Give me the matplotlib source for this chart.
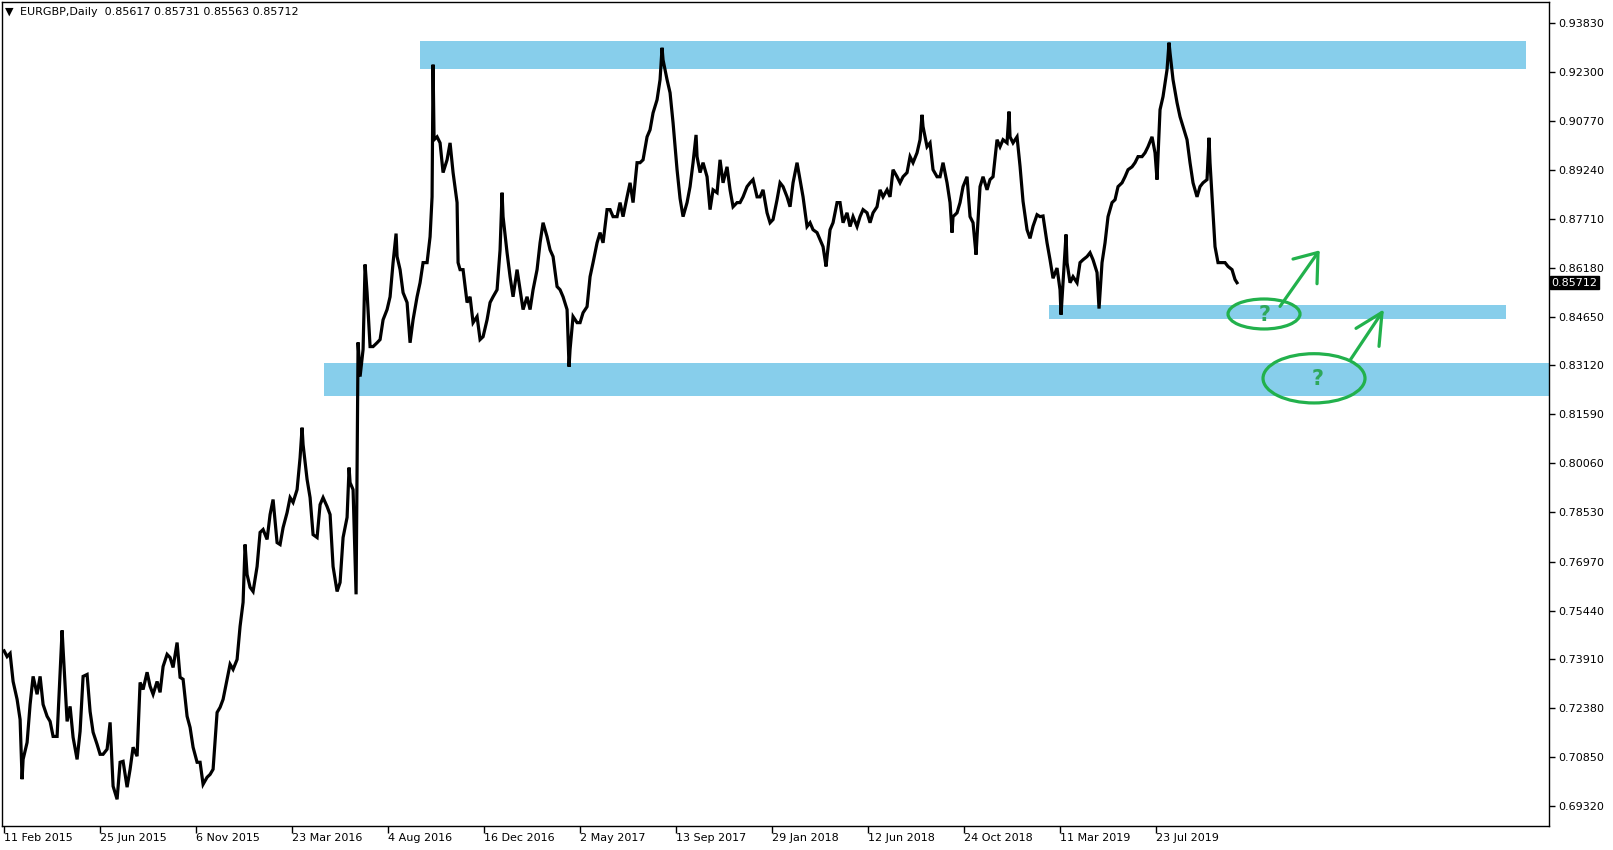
import matplotlib
matplotlib.use("Agg")
import matplotlib.pyplot as plt
from matplotlib.patches import Ellipse
import matplotlib.transforms as mtransforms

# EURGBP daily, bar number (0 = 11 Feb 2015) and price
bars = [0, 3, 6, 9, 13, 16, 18, 19, 23, 26, 29, 33, 36, 39, 43, 46, 49, 53, 56, 58,
        59, 63, 66, 69, 73, 76, 79, 83, 86, 89, 93, 96, 99, 103, 106, 109, 113, 116, 119, 123,
        126, 129, 133, 136, 139, 143, 146, 149, 153, 156, 159, 163, 166, 169, 173, 176, 179, 183, 186, 189,
        193, 196, 199, 203, 206, 209, 213, 216, 219, 223, 226, 229, 233, 236, 239, 241, 243, 246, 249, 253,
        256, 259, 263, 266, 269, 273, 276, 279, 283, 286, 289, 293, 296, 298, 299, 303, 306, 309, 313, 316,
        319, 323, 326, 329, 333, 336, 339, 343, 345, 346, 349, 352, 354, 356, 359, 361, 363, 366, 369, 373,
        376, 379, 383, 386, 389, 392, 393, 396, 399, 403, 406, 409, 413, 416, 419, 423, 426, 428, 429, 430,
        433, 436, 439, 443, 446, 449, 453, 454, 456, 459, 463, 466, 469, 473, 476, 479, 483, 486, 489, 493,
        496, 498, 499, 503, 506, 509, 513, 516, 519, 523, 526, 529, 533, 536, 539, 543, 546, 549, 553, 556,
        559, 563, 565, 566, 569, 573, 576, 579, 583, 586, 589, 593, 596, 599, 603, 606, 609, 613, 616, 619,
        623, 626, 629, 633, 636, 639, 643, 646, 649, 653, 656, 658, 659, 663, 666, 669, 673, 676, 679, 683,
        686, 689, 692, 693, 696, 699, 703, 706, 709, 713, 716, 719, 723, 726, 729, 733, 736, 739, 743, 746,
        749, 753, 756, 759, 763, 766, 769, 773, 776, 779, 783, 786, 789, 793, 796, 799, 803, 806, 809, 813,
        816, 819, 822, 823, 826, 829, 833, 836, 839, 843, 846, 849, 853, 856, 859, 863, 866, 869, 873, 876,
        879, 883, 886, 889, 893, 896, 899, 903, 906, 909, 913, 916, 918, 919, 923, 926, 929, 933, 936, 939,
        943, 946, 948, 949, 953, 956, 959, 963, 966, 969, 972, 973, 976, 979, 983, 986, 989, 993, 996, 999,
        1003, 1005, 1006, 1009, 1013, 1016, 1019, 1023, 1026, 1029, 1033, 1036, 1039, 1043, 1046, 1049, 1053, 1056, 1057, 1059,
        1062, 1063, 1066, 1069, 1073, 1076, 1079, 1083, 1086, 1089, 1093, 1095, 1098, 1101, 1104, 1108, 1111, 1114, 1118, 1121,
        1124, 1128, 1131, 1134, 1138, 1141, 1144, 1148, 1151, 1153, 1156, 1159, 1163, 1165, 1166, 1169, 1173, 1176, 1179, 1183,
        1186, 1189, 1193, 1196, 1199, 1203, 1205, 1206, 1209, 1211, 1214, 1218, 1221, 1224, 1228, 1231, 1233]

prices = [0.7418, 0.7400, 0.7410, 0.7322, 0.7266, 0.7203, 0.7016, 0.7078, 0.7131, 0.7250, 0.7338, 0.7282, 0.7338, 0.7250, 0.7213, 0.7197, 0.7150, 0.7150, 0.7351, 0.7482,
          0.7423, 0.7197, 0.7244, 0.7147, 0.7078, 0.7166, 0.7338, 0.7344, 0.7228, 0.7163, 0.7125, 0.7094, 0.7094, 0.7110, 0.7194, 0.6994, 0.6953, 0.7069, 0.7072, 0.6991,
          0.7047, 0.7116, 0.7088, 0.7319, 0.7297, 0.7351, 0.7307, 0.7282, 0.7322, 0.7288, 0.7369, 0.7407, 0.7397, 0.7366, 0.7444, 0.7335, 0.7329, 0.7213, 0.7178, 0.7116,
          0.7069, 0.7069, 0.7000, 0.7022, 0.7031, 0.7047, 0.7225, 0.7241, 0.7266, 0.7329, 0.7376, 0.7360, 0.7391, 0.7495, 0.7570, 0.7751, 0.7657, 0.7617, 0.7604, 0.7682,
          0.7789, 0.7798, 0.7767, 0.7845, 0.7892, 0.7757, 0.7751, 0.7804, 0.7851, 0.7898, 0.7883, 0.7923, 0.8023, 0.8117, 0.8064, 0.7955, 0.7898, 0.7782, 0.7773, 0.7876,
          0.7898, 0.7870, 0.7845, 0.7682, 0.7604, 0.7632, 0.7773, 0.7836, 0.7992, 0.7945, 0.7923, 0.7595, 0.8384, 0.8277, 0.8362, 0.8628, 0.8540, 0.8371, 0.8371, 0.8383,
          0.8393, 0.8455, 0.8487, 0.8527, 0.8634, 0.8725, 0.8653, 0.8612, 0.8540, 0.8509, 0.8383, 0.8455, 0.8527, 0.8571, 0.8634, 0.8634, 0.8715, 0.8840, 0.9254, 0.9019,
          0.9028, 0.9009, 0.8916, 0.8956, 0.9009, 0.8916, 0.8822, 0.8634, 0.8612, 0.8612, 0.8509, 0.8527, 0.8446, 0.8465, 0.8393, 0.8402, 0.8455, 0.8509, 0.8527, 0.8549,
          0.8674, 0.8853, 0.8778, 0.8665, 0.8590, 0.8527, 0.8612, 0.8549, 0.8487, 0.8527, 0.8487, 0.8549, 0.8612, 0.8696, 0.8759, 0.8715, 0.8674, 0.8653, 0.8559, 0.8549,
          0.8527, 0.8487, 0.8308, 0.8362, 0.8465, 0.8446, 0.8446, 0.8477, 0.8496, 0.8590, 0.8634, 0.8696, 0.8728, 0.8696, 0.8800, 0.8800, 0.8778, 0.8778, 0.8822, 0.8778,
          0.8840, 0.8884, 0.8822, 0.8947, 0.8947, 0.8956, 0.9028, 0.9050, 0.9103, 0.9144, 0.9207, 0.9307, 0.9269, 0.9207, 0.9166, 0.9072, 0.8925, 0.8835, 0.8778, 0.8822,
          0.8872, 0.8947, 0.9034, 0.8966, 0.8916, 0.8947, 0.8903, 0.8800, 0.8862, 0.8853, 0.8956, 0.8884, 0.8934, 0.8862, 0.8809, 0.8822, 0.8822, 0.8840, 0.8872, 0.8884,
          0.8894, 0.8840, 0.8840, 0.8862, 0.8790, 0.8759, 0.8769, 0.8831, 0.8884, 0.8872, 0.8840, 0.8809, 0.8884, 0.8947, 0.8894, 0.8840, 0.8747, 0.8759, 0.8737, 0.8728,
          0.8706, 0.8684, 0.8622, 0.8653, 0.8737, 0.8759, 0.8822, 0.8822, 0.8759, 0.8790, 0.8747, 0.8778, 0.8747, 0.8778, 0.8800, 0.8790, 0.8759, 0.8790, 0.8809, 0.8862,
          0.8840, 0.8862, 0.8840, 0.8925, 0.8903, 0.8884, 0.8903, 0.8916, 0.8966, 0.8947, 0.8978, 0.9019, 0.9097, 0.9060, 0.8997, 0.9009, 0.8925, 0.8903, 0.8903, 0.8947,
          0.8884, 0.8822, 0.8728, 0.8778, 0.8790, 0.8822, 0.8872, 0.8903, 0.8778, 0.8759, 0.8659, 0.8715, 0.8872, 0.8903, 0.8862, 0.8894, 0.8903, 0.9019, 0.8997, 0.9019,
          0.9009, 0.9107, 0.9028, 0.9009, 0.9028, 0.8936, 0.8826, 0.8737, 0.8710, 0.8748, 0.8784, 0.8778, 0.8780, 0.8696, 0.8643, 0.8585, 0.8617, 0.8549, 0.8471, 0.8571,
          0.8722, 0.8634, 0.8571, 0.8590, 0.8571, 0.8634, 0.8643, 0.8653, 0.8665, 0.8643, 0.8603, 0.8490, 0.8634, 0.8696, 0.8778, 0.8822, 0.8831, 0.8872, 0.8884, 0.8903,
          0.8925, 0.8934, 0.8947, 0.8966, 0.8966, 0.8978, 0.8997, 0.9028, 0.8978, 0.8894, 0.9113, 0.9154, 0.9238, 0.9323, 0.9291, 0.9207, 0.9135, 0.9091, 0.9060, 0.9019,
          0.8947, 0.8884, 0.8840, 0.8872, 0.8884, 0.8894, 0.9025, 0.8947, 0.8790, 0.8684, 0.8634, 0.8634, 0.8634, 0.8622, 0.8612, 0.8581, 0.8571]

last_price = 0.85712
title = "EURGBP,Daily  0.85617 0.85731 0.85563 0.85712"

# support / resistance zones: start bar, end bar, low, high
zone_start = [416, 1045, 320]
zone_end = [1522, 1502, 1600]
zone_low = [0.92406, 0.84584, 0.82153]
zone_high = [0.93282, 0.85022, 0.83207]

date_labels = ["11 Feb 2015", "25 Jun 2015", "6 Nov 2015", "23 Mar 2016", "4 Aug 2016",
               "16 Dec 2016", "2 May 2017", "13 Sep 2017", "29 Jan 2018", "12 Jun 2018",
               "24 Oct 2018", "11 Mar 2019", "23 Jul 2019"]
date_bars = [0, 96, 192, 288, 384, 480, 576, 672, 768, 864, 960, 1056, 1152]

price_ticks = [0.93830, 0.92300, 0.90770, 0.89240, 0.87710, 0.86180, 0.84650, 0.83120,
               0.81590, 0.80060, 0.78530, 0.76970, 0.75440, 0.73910, 0.72380, 0.70850, 0.69320]

fig = plt.figure(figsize=(16.13, 8.50), dpi=100)
ax = fig.add_axes([2 / 1613, 24 / 850, 1547 / 1613, 824 / 850])

sky = "#87CEEB"
for s, e, lo, hi in zip(zone_start, zone_end, zone_low, zone_high):
    ax.fill_between([s, e], [lo, lo], [hi, hi], color=sky, linewidth=0, zorder=1)

ax.plot(bars, prices, color="black", linewidth=2.3, solid_joinstyle="miter", zorder=3)

# green hand-drawn marks
green = "#22B14C"
ax.add_patch(Ellipse((1260, 0.84731), 72, 0.00939, fill=False, edgecolor=green, linewidth=2.3, zorder=4))
ax.add_patch(Ellipse((1310, 0.82716), 102, 0.01543, fill=False, edgecolor=green, linewidth=2.3, zorder=4))
ax.plot([1276, 1314], [0.84969, 0.86659], color=green, linewidth=2.3, solid_capstyle="round", zorder=4)
ax.plot([1289, 1314, 1313], [0.86452, 0.86659, 0.85679], color=green, linewidth=2.3,
        solid_capstyle="round", solid_joinstyle="round", zorder=4)
ax.plot([1346, 1378], [0.83279, 0.84781], color=green, linewidth=2.3, solid_capstyle="round", zorder=4)
ax.plot([1352, 1378, 1375], [0.84281, 0.84781, 0.83717], color=green, linewidth=2.3,
        solid_capstyle="round", solid_joinstyle="round", zorder=4)
ax.text(1261, 0.8471, "?", color="#2EA85A", fontsize=15, fontweight="bold", ha="center", va="center", zorder=5)
ax.text(1314, 0.8269, "?", color="#2EA85A", fontsize=15, fontweight="bold", ha="center", va="center", zorder=5)

ax.set_xlim(-2.1, 1545)
ax.set_ylim(0.68694, 0.94503)

ax.yaxis.tick_right()
ax.set_yticks(price_ticks)
ax.set_yticklabels([f"{v:.5f}" for v in price_ticks])
ax.tick_params(axis="y", direction="out", length=4, width=1, pad=3, labelsize=8)

ax.set_xticks(date_bars)
ax.set_xticklabels(date_labels, ha="left")
ax.tick_params(axis="x", direction="out", length=5, width=1, pad=0, labelsize=8)

for sp in ax.spines.values():
    sp.set_color("black")
    sp.set_linewidth(1)

# current price box on the right scale
trans = mtransforms.blended_transform_factory(ax.transAxes, ax.transData)
ax.text(1.0015, last_price, f"{last_price:.5f}", transform=trans, color="white", fontsize=8,
        ha="left", va="center", bbox=dict(boxstyle="square,pad=0.15", facecolor="black", edgecolor="black"),
        zorder=6, clip_on=False)

fig.text(5 / 1613, 1 - 12 / 850, "\u25bc", fontsize=8, va="center", ha="left")
fig.text(20 / 1613, 1 - 12 / 850, title, fontsize=8, va="center", ha="left")

fig.savefig("out.png", dpi=100, facecolor="white")
